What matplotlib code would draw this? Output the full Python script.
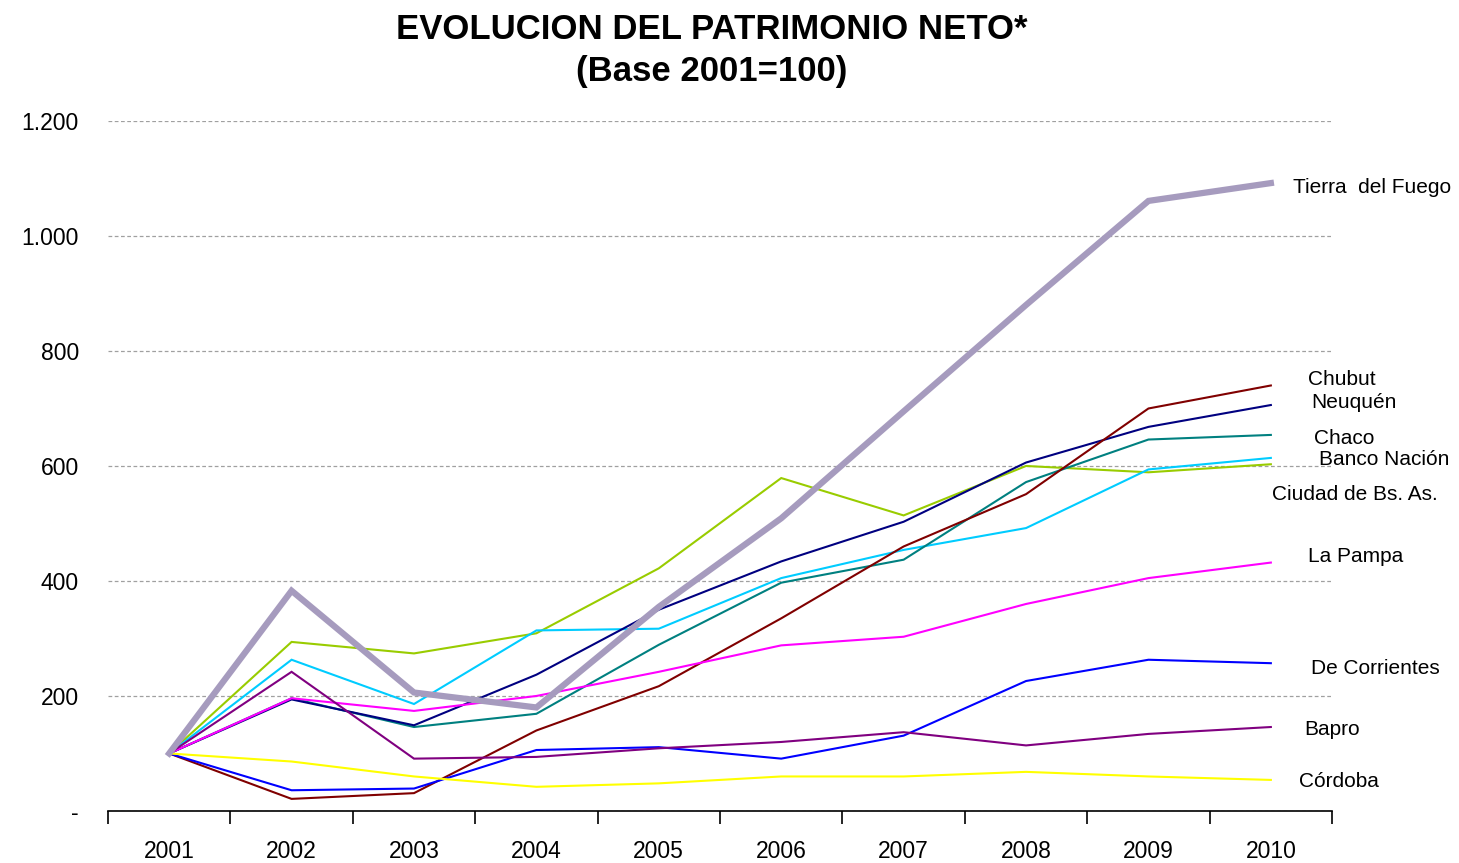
import numpy as np
import matplotlib.pyplot as plt
from matplotlib.ticker import FuncFormatter

plt.rcParams["font.family"] = ["Liberation Sans", "DejaVu Sans"]

YEARS = ["2001", "2002", "2003", "2004", "2005", "2006", "2007", "2008", "2009", "2010"]

tierra_del_fuego = [100, 383, 206, 180, 355, 509, 695, 880, 1061, 1092]
chubut = [100, 21, 31, 140, 217, 335, 460, 551, 700, 740]
neuquen = [100, 194, 149, 237, 350, 434, 503, 606, 668, 706]
chaco = [100, 196, 146, 169, 289, 397, 437, 572, 646, 654]
banco_nacion = [100, 263, 186, 314, 317, 405, 454, 492, 594, 614]
ciudad = [100, 294, 274, 309, 422, 579, 514, 600, 589, 603]
la_pampa = [100, 196, 174, 200, 242, 288, 303, 360, 405, 432]
de_corrientes = [100, 36, 39, 106, 111, 91, 131, 226, 263, 257]
bapro = [100, 242, 91, 94, 109, 120, 137, 114, 134, 146]
cordoba = [100, 86, 60, 42, 48, 60, 60, 68, 60, 54]

# (values, colour, width, label, label x, label y)
SERIES = [
    (ciudad, "#99CC00", 1.5, "Ciudad de Bs. As.", 9.01, 551),
    (banco_nacion, "#00CCFF", 1.5, "Banco Nación", 9.39, 612),
    (chaco, "#008080", 1.5, "Chaco", 9.35, 648),
    (neuquen, "#000080", 1.5, "Neuquén", 9.33, 710),
    (chubut, "#800000", 1.5, "Chubut", 9.30, 750),
    (la_pampa, "#FF00FF", 1.5, "La Pampa", 9.30, 443),
    (de_corrientes, "#0000FF", 1.5, "De Corrientes", 9.33, 247),
    (bapro, "#800080", 1.5, "Bapro", 9.27, 141),
    (cordoba, "#FFFF00", 1.5, "Córdoba", 9.23, 52),
    (tierra_del_fuego, "#A69BBE", 4.5, "Tierra  del Fuego", 9.18, 1084),
]

fig = plt.figure(figsize=(14.59, 8.63), dpi=100)
ax = fig.add_axes([0.074, 0.0603, 0.839, 0.7995])

x = np.arange(len(YEARS))
for vals, color, lw, label, lx, ly in SERIES:
    ax.plot(x, vals, color=color, lw=lw, solid_joinstyle="miter")
    ax.text(lx, ly, label, fontsize=15, ha="left", va="center", color="#000000",
            clip_on=False)

ax.set_xlim(-0.5, len(YEARS) - 0.5)
ax.set_ylim(0, 1200)
ax.set_yticks(np.arange(0, 1201, 200))
ax.yaxis.set_major_formatter(FuncFormatter(
    lambda v, p: "-" if v == 0 else f"{int(v):,}".replace(",", ".")))
ax.set_xticks(x)
ax.set_xticklabels(YEARS)
ax.set_xticks(np.arange(-0.5, len(YEARS), 1.0), minor=True)
ax.tick_params(axis="x", which="major", length=0, labelsize=16.5, pad=21)
ax.tick_params(axis="x", which="minor", length=9, width=1.2, direction="out", color="#000000")
ax.tick_params(axis="y", length=0, labelsize=16.5, pad=21)

ax.grid(axis="y", color="#A0A0A0", ls=(0, (3, 2)), lw=0.9)
ax.set_axisbelow(True)
for s in ["top", "right", "left"]:
    ax.spines[s].set_visible(False)
ax.spines["bottom"].set_color("#000000")
ax.spines["bottom"].set_linewidth(1.2)

fig.text(0.488, 0.966, "EVOLUCION DEL PATRIMONIO NETO*", ha="center", va="center",
         fontsize=25, fontweight="bold")
fig.text(0.488, 0.917, "(Base 2001=100)", ha="center", va="center",
         fontsize=25, fontweight="bold")

fig.savefig("out.png", dpi=100, facecolor="white")
